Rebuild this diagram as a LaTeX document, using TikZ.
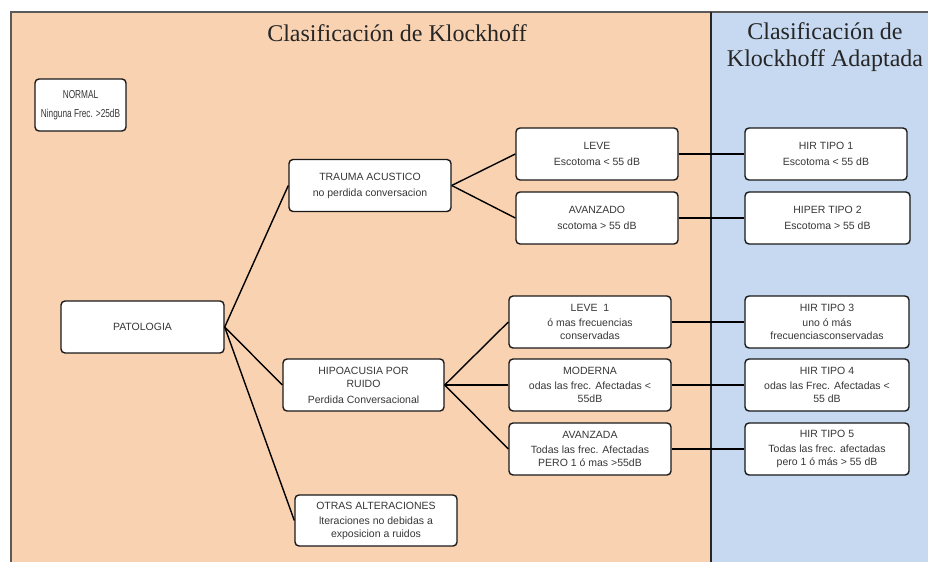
\documentclass[tikz,border=0pt]{standalone}
\usepackage{fontspec}
\setmainfont{Liberation Serif}
\newfontfamily\boxfont{Liberation Sans}
\newfontfamily\condfont[FakeStretch=0.72]{Liberation Sans}
\definecolor{peach}{RGB}{249,210,178}
\definecolor{paleblue}{RGB}{198,217,241}
\definecolor{boxtext}{RGB}{55,55,55}
\definecolor{framegray}{RGB}{90,90,90}
\tikzset{
  box/.style={draw=black!90, line width=1.4pt, fill=white, rounded corners=4pt,
    minimum height=52pt, inner sep=1pt, align=center, text=boxtext,
    font=\boxfont\fontsize{10.5}{13}\selectfont},
  link/.style={draw=black, line width=1.4pt},
  title/.style={font=\fontsize{24}{27}\selectfont, text=black!85, align=center}
}
\begin{document}
\begin{tikzpicture}[x=1pt,y=-1pt]
\useasboundingbox (0,0) rectangle (928,562);
\fill[peach] (11,12) rectangle (711,562);
\fill[paleblue] (711,12) rectangle (928,562);
\draw[framegray, line width=1.5pt] (11,562) -- (11,12) -- (928,12);
\draw[black!85, line width=2pt] (711,12) -- (711,562);

\node[title] (t1) at (397,33) {Clasificación de Klockhoff};
\node[title] (t2) at (825,47) {Clasificación de\\Klockhoff Adaptada};

\node[box, minimum width=91pt, font=\condfont\fontsize{11.5}{13}\selectfont] (normal) at (80.5,105) {NORMAL\\[6pt]Ninguna Frec. >25dB};
\node[box, minimum width=163pt] (pat) at (142.5,327) {PATOLOGIA};
\node[box, minimum width=162pt] (trauma) at (370,185.5) {TRAUMA ACUSTICO\\[3pt]no perdida conversacion};
\node[box, minimum width=161pt] (hipo) at (363.5,385) {HIPOACUSIA POR\\RUIDO\\[3pt]Perdida Conversacional};
\node[box, minimum width=162pt, minimum height=51pt] (otras) at (376,520.5) {OTRAS ALTERACIONES\\[2pt]lteraciones no debidas a\\exposicion a ruidos};

\node[box, minimum width=162pt] (leve) at (597,154) {LEVE\\[3pt]Escotoma < 55 dB};
\node[box, minimum width=162pt] (avanzado) at (597,218) {AVANZADO\\[3pt]scotoma > 55 dB};
\node[box, minimum width=162pt] (leve1) at (590,322) {LEVE\ \ 1\\[2pt]ó mas frecuencias\\conservadas};
\node[box, minimum width=162pt] (moderna) at (590,385) {MODERNA\\[2pt]odas las frec. Afectadas <\\55dB};
\node[box, minimum width=162pt] (avanzada) at (590,449) {AVANZADA\\[2pt]Todas las frec. Afectadas\\PERO 1 ó mas >55dB};

\node[box, minimum width=162pt] (hir1) at (826,154) {HIR TIPO 1\\[3pt]Escotoma < 55 dB};
\node[box, minimum width=165pt] (hir2) at (827.5,218) {HIPER TIPO 2\\[3pt]Escotoma > 55 dB};
\node[box, minimum width=164pt] (hir3) at (827,322) {HIR TIPO 3\\[2pt]uno ó más\\frecuenciasconservadas};
\node[box, minimum width=164pt] (hir4) at (827,385) {HIR TIPO 4\\[2pt]odas las Frec. Afectadas <\\55 dB};
\node[box, minimum width=164pt] (hir5) at (827,449) {HIR TIPO 5\\[2pt]Todas las frec. afectadas\\pero 1 ó más > 55 dB};

\draw[link] (pat.east) -- (trauma.west);
\draw[link] (pat.east) -- (hipo.west);
\draw[link] (pat.east) -- (otras.west);
\draw[link] (trauma.east) -- (leve.west);
\draw[link] (trauma.east) -- (avanzado.west);
\draw[link] (hipo.east) -- (leve1.west);
\draw[link] (hipo.east) -- (moderna.west);
\draw[link] (hipo.east) -- (avanzada.west);
\draw[link] (leve.east) -- (hir1.west);
\draw[link] (avanzado.east) -- (hir2.west);
\draw[link] (leve1.east) -- (hir3.west);
\draw[link] (moderna.east) -- (hir4.west);
\draw[link] (avanzada.east) -- (hir5.west);
\end{tikzpicture}
\end{document}
